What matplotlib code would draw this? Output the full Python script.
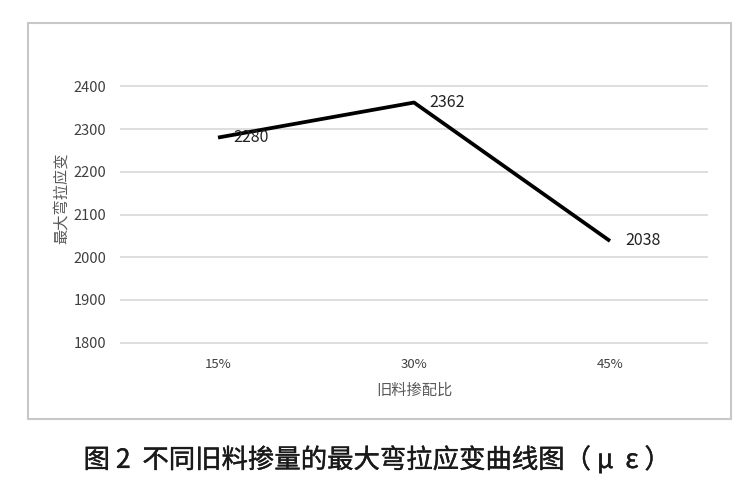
import matplotlib
matplotlib.use('Agg')
from matplotlib import pyplot as plt
from matplotlib.patches import Rectangle
import matplotlib.patheffects as pe

plt.rcParams['font.family'] = ['Noto Sans CJK SC', 'DejaVu Sans']

ratios = ['15%', '30%', '45%']
strain = [2280, 2362, 2038]
yticks = [1800, 1900, 2000, 2100, 2200, 2300, 2400]

W, H = 751, 499
fig = plt.figure(figsize=(W / 100, H / 100), dpi=100)
fig.patch.set_facecolor('white')

# outer chart frame
fig.patches.append(Rectangle((28 / W, 1 - 419 / H), 703 / W, 396 / H,
                             transform=fig.transFigure, fill=False,
                             edgecolor='#c8c8c8', linewidth=1.5))

ax = fig.add_axes([120 / W, 1 - 344 / H, 588 / W, 259 / H])
x = list(range(len(ratios)))
ax.plot(x, strain, color='black', linewidth=2.7, solid_capstyle='butt')
for i, v in enumerate(strain):
    ax.annotate(str(v), (i, v), xytext=(11, 0), textcoords='offset points',
                ha='left', va='center', fontsize=11.5, color='#222222')

ax.set_xlim(-0.5, 2.5)
ax.set_ylim(1797, 2403)
ax.set_yticks(yticks)
ax.set_xticks(x)
ax.set_xticklabels(ratios)
ax.grid(axis='y', color='#d4d4d4', linewidth=1.1)
ax.set_axisbelow(True)
for s in ax.spines.values():
    s.set_visible(False)
ax.tick_params(axis='both', length=0, colors='#404040', labelsize=10.5)
ax.tick_params(axis='y', pad=10)
ax.tick_params(axis='x', pad=10, labelsize=9.5)

ax.set_xlabel('旧料掺配比', fontsize=11, color='#595959', labelpad=8)
fig.text(61 / W, 1 - 198 / H, '最大弯拉应变', rotation=90, ha='center',
         va='center', fontsize=11, color='#595959')

fig.text(377 / W, 1 - 460 / H, '图 2  不同旧料掺量的最大弯拉应变曲线图（ μ  ε ）',
         ha='center', va='center', fontsize=19, color='#1a1a1a',
         path_effects=[pe.withStroke(linewidth=0.3, foreground='#1a1a1a')])

fig.savefig('out.png', dpi=100)
